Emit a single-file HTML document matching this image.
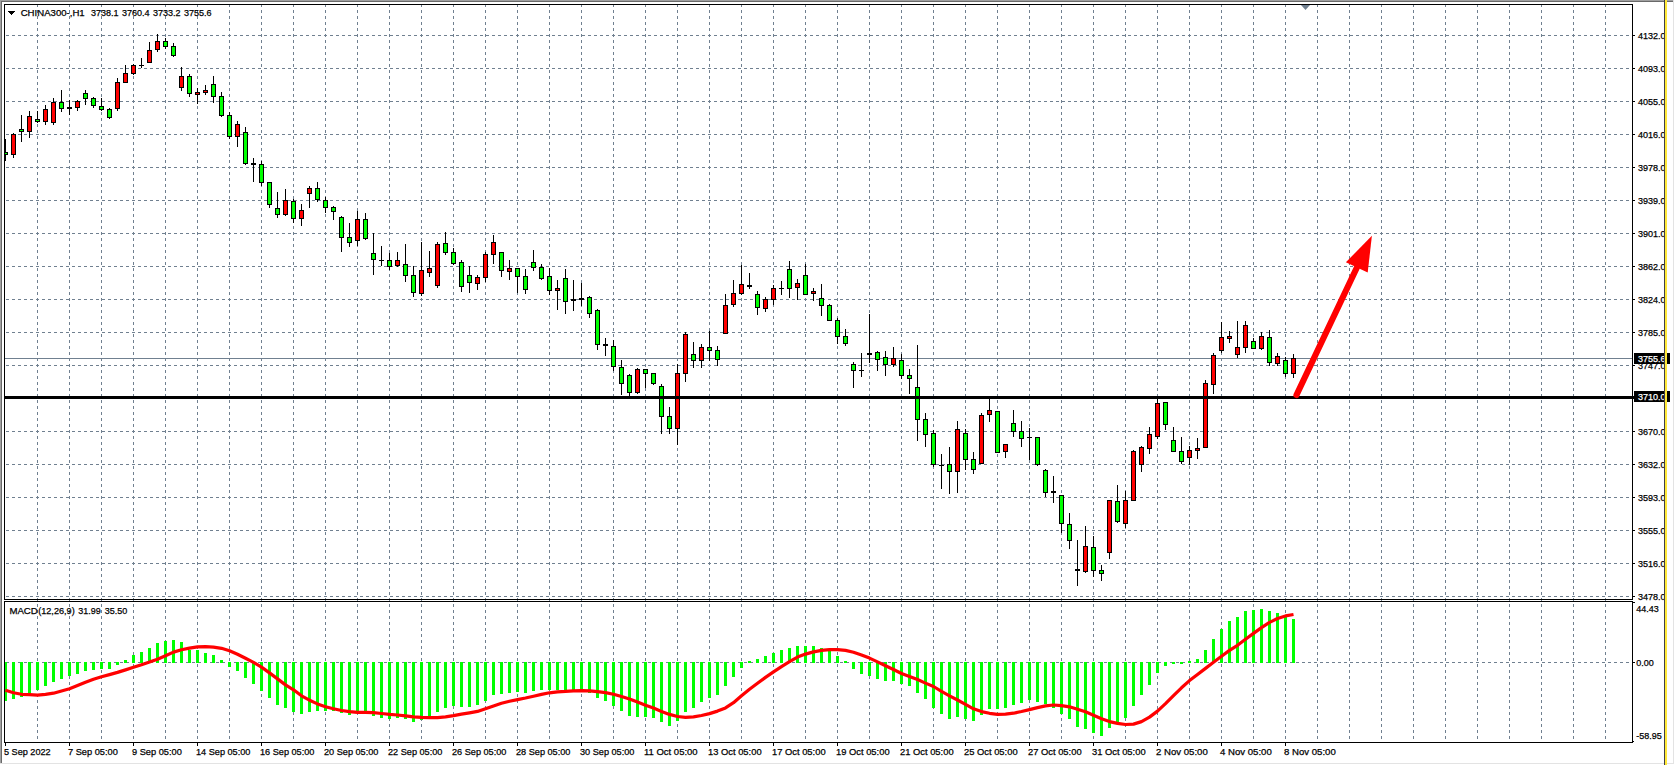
<!DOCTYPE html>
<html><head><meta charset="utf-8"><title>CHINA300-,H1</title>
<style>html,body{margin:0;padding:0;background:#fff;overflow:hidden}svg{display:block}text{font-family:"Liberation Sans",sans-serif;font-size:9.7px;fill:#000;stroke:#000;stroke-width:0.25px}.w{fill:#fff;stroke:#fff}</style></head><body>
<svg width="1675" height="765" viewBox="0 0 1675 765">
<rect width="1675" height="765" fill="#fff"/>
<g shape-rendering="crispEdges">
<rect x="0" y="0" width="1673" height="1" fill="#a0a0a0"/>
<rect x="0" y="0" width="1" height="763" fill="#a0a0a0"/>
<rect x="1" y="1" width="1672" height="1" fill="#696969"/>
<rect x="1" y="1" width="1" height="762" fill="#696969"/>
<rect x="0" y="763" width="1674" height="1" fill="#e3e3e3"/>
<rect x="1673" y="0" width="1" height="764" fill="#e3e3e3"/>
<g stroke="#708090" stroke-width="1" stroke-dasharray="3 3" fill="none">
<line x1="6" y1="35.5" x2="1632" y2="35.5"/>
<line x1="6" y1="68.5" x2="1632" y2="68.5"/>
<line x1="6" y1="101.5" x2="1632" y2="101.5"/>
<line x1="6" y1="134.5" x2="1632" y2="134.5"/>
<line x1="6" y1="167.5" x2="1632" y2="167.5"/>
<line x1="6" y1="200.5" x2="1632" y2="200.5"/>
<line x1="6" y1="233.5" x2="1632" y2="233.5"/>
<line x1="6" y1="266.5" x2="1632" y2="266.5"/>
<line x1="6" y1="299.5" x2="1632" y2="299.5"/>
<line x1="6" y1="332.5" x2="1632" y2="332.5"/>
<line x1="6" y1="365.5" x2="1632" y2="365.5"/>
<line x1="6" y1="431.5" x2="1632" y2="431.5"/>
<line x1="6" y1="464.5" x2="1632" y2="464.5"/>
<line x1="6" y1="497.5" x2="1632" y2="497.5"/>
<line x1="6" y1="530.5" x2="1632" y2="530.5"/>
<line x1="6" y1="563.5" x2="1632" y2="563.5"/>
<line x1="6" y1="596.5" x2="1632" y2="596.5"/>
<line x1="6" y1="662.5" x2="1632" y2="662.5"/>
<line x1="37.5" y1="4" x2="37.5" y2="742"/>
<line x1="69.5" y1="4" x2="69.5" y2="742"/>
<line x1="101.5" y1="4" x2="101.5" y2="742"/>
<line x1="133.5" y1="4" x2="133.5" y2="742"/>
<line x1="165.5" y1="4" x2="165.5" y2="742"/>
<line x1="197.5" y1="4" x2="197.5" y2="742"/>
<line x1="229.5" y1="4" x2="229.5" y2="742"/>
<line x1="261.5" y1="4" x2="261.5" y2="742"/>
<line x1="293.5" y1="4" x2="293.5" y2="742"/>
<line x1="325.5" y1="4" x2="325.5" y2="742"/>
<line x1="357.5" y1="4" x2="357.5" y2="742"/>
<line x1="389.5" y1="4" x2="389.5" y2="742"/>
<line x1="421.5" y1="4" x2="421.5" y2="742"/>
<line x1="453.5" y1="4" x2="453.5" y2="742"/>
<line x1="485.5" y1="4" x2="485.5" y2="742"/>
<line x1="517.5" y1="4" x2="517.5" y2="742"/>
<line x1="549.5" y1="4" x2="549.5" y2="742"/>
<line x1="581.5" y1="4" x2="581.5" y2="742"/>
<line x1="613.5" y1="4" x2="613.5" y2="742"/>
<line x1="645.5" y1="4" x2="645.5" y2="742"/>
<line x1="677.5" y1="4" x2="677.5" y2="742"/>
<line x1="709.5" y1="4" x2="709.5" y2="742"/>
<line x1="741.5" y1="4" x2="741.5" y2="742"/>
<line x1="773.5" y1="4" x2="773.5" y2="742"/>
<line x1="805.5" y1="4" x2="805.5" y2="742"/>
<line x1="837.5" y1="4" x2="837.5" y2="742"/>
<line x1="869.5" y1="4" x2="869.5" y2="742"/>
<line x1="901.5" y1="4" x2="901.5" y2="742"/>
<line x1="933.5" y1="4" x2="933.5" y2="742"/>
<line x1="965.5" y1="4" x2="965.5" y2="742"/>
<line x1="997.5" y1="4" x2="997.5" y2="742"/>
<line x1="1029.5" y1="4" x2="1029.5" y2="742"/>
<line x1="1061.5" y1="4" x2="1061.5" y2="742"/>
<line x1="1093.5" y1="4" x2="1093.5" y2="742"/>
<line x1="1125.5" y1="4" x2="1125.5" y2="742"/>
<line x1="1157.5" y1="4" x2="1157.5" y2="742"/>
<line x1="1189.5" y1="4" x2="1189.5" y2="742"/>
<line x1="1221.5" y1="4" x2="1221.5" y2="742"/>
<line x1="1253.5" y1="4" x2="1253.5" y2="742"/>
<line x1="1285.5" y1="4" x2="1285.5" y2="742"/>
<line x1="1317.5" y1="4" x2="1317.5" y2="742"/>
<line x1="1349.5" y1="4" x2="1349.5" y2="742"/>
<line x1="1381.5" y1="4" x2="1381.5" y2="742"/>
<line x1="1413.5" y1="4" x2="1413.5" y2="742"/>
<line x1="1445.5" y1="4" x2="1445.5" y2="742"/>
<line x1="1477.5" y1="4" x2="1477.5" y2="742"/>
<line x1="1509.5" y1="4" x2="1509.5" y2="742"/>
<line x1="1541.5" y1="4" x2="1541.5" y2="742"/>
<line x1="1573.5" y1="4" x2="1573.5" y2="742"/>
<line x1="1605.5" y1="4" x2="1605.5" y2="742"/>
</g>
<path d="M1301 5h9l-4.5 5z" fill="#708090" shape-rendering="geometricPrecision"/>
<rect x="5" y="358" width="1628" height="1" fill="#708090"/>
<rect x="5" y="139" width="1" height="22" fill="#000"/>
<rect x="5" y="152" width="3" height="3" fill="#000"/>
<rect x="5" y="153" width="2" height="1" fill="#00ff00"/>
<rect x="13" y="133" width="1" height="25" fill="#000"/>
<rect x="11" y="134" width="5" height="21" fill="#000"/>
<rect x="12" y="135" width="3" height="19" fill="#ff0000"/>
<rect x="21" y="115" width="1" height="27" fill="#000"/>
<rect x="19" y="129" width="5" height="3" fill="#000"/>
<rect x="20" y="130" width="3" height="1" fill="#00ff00"/>
<rect x="29" y="111" width="1" height="27" fill="#000"/>
<rect x="27" y="116" width="5" height="16" fill="#000"/>
<rect x="28" y="117" width="3" height="14" fill="#ff0000"/>
<rect x="37" y="111" width="1" height="12" fill="#000"/>
<rect x="35" y="119" width="5" height="3" fill="#000"/>
<rect x="36" y="120" width="3" height="1" fill="#00ff00"/>
<rect x="45" y="105" width="1" height="20" fill="#000"/>
<rect x="43" y="109" width="5" height="13" fill="#000"/>
<rect x="44" y="110" width="3" height="11" fill="#ff0000"/>
<rect x="53" y="98" width="1" height="27" fill="#000"/>
<rect x="51" y="102" width="5" height="21" fill="#000"/>
<rect x="52" y="103" width="3" height="19" fill="#ff0000"/>
<rect x="61" y="90" width="1" height="22" fill="#000"/>
<rect x="59" y="102" width="5" height="7" fill="#000"/>
<rect x="60" y="103" width="3" height="5" fill="#00ff00"/>
<rect x="69" y="100" width="1" height="15" fill="#000"/>
<rect x="67" y="107" width="5" height="2" fill="#000"/>
<rect x="77" y="100" width="1" height="11" fill="#000"/>
<rect x="75" y="101" width="5" height="7" fill="#000"/>
<rect x="76" y="102" width="3" height="5" fill="#ff0000"/>
<rect x="85" y="90" width="1" height="15" fill="#000"/>
<rect x="83" y="93" width="5" height="6" fill="#000"/>
<rect x="84" y="94" width="3" height="4" fill="#00ff00"/>
<rect x="93" y="97" width="1" height="11" fill="#000"/>
<rect x="91" y="98" width="5" height="8" fill="#000"/>
<rect x="92" y="99" width="3" height="6" fill="#00ff00"/>
<rect x="101" y="98" width="1" height="13" fill="#000"/>
<rect x="99" y="106" width="5" height="4" fill="#000"/>
<rect x="100" y="107" width="3" height="2" fill="#00ff00"/>
<rect x="109" y="108" width="1" height="11" fill="#000"/>
<rect x="107" y="109" width="5" height="9" fill="#000"/>
<rect x="108" y="110" width="3" height="7" fill="#00ff00"/>
<rect x="117" y="78" width="1" height="33" fill="#000"/>
<rect x="115" y="82" width="5" height="27" fill="#000"/>
<rect x="116" y="83" width="3" height="25" fill="#ff0000"/>
<rect x="125" y="65" width="1" height="18" fill="#000"/>
<rect x="123" y="73" width="5" height="10" fill="#000"/>
<rect x="124" y="74" width="3" height="8" fill="#ff0000"/>
<rect x="133" y="64" width="1" height="11" fill="#000"/>
<rect x="131" y="65" width="5" height="9" fill="#000"/>
<rect x="132" y="66" width="3" height="7" fill="#ff0000"/>
<rect x="141" y="58" width="1" height="10" fill="#000"/>
<rect x="139" y="65" width="5" height="1" fill="#000"/>
<rect x="149" y="42" width="1" height="21" fill="#000"/>
<rect x="147" y="50" width="5" height="13" fill="#000"/>
<rect x="148" y="51" width="3" height="11" fill="#ff0000"/>
<rect x="157" y="34" width="1" height="18" fill="#000"/>
<rect x="155" y="41" width="5" height="9" fill="#000"/>
<rect x="156" y="42" width="3" height="7" fill="#ff0000"/>
<rect x="165" y="38" width="1" height="11" fill="#000"/>
<rect x="163" y="41" width="5" height="6" fill="#000"/>
<rect x="164" y="42" width="3" height="4" fill="#00ff00"/>
<rect x="173" y="43" width="1" height="14" fill="#000"/>
<rect x="171" y="46" width="5" height="10" fill="#000"/>
<rect x="172" y="47" width="3" height="8" fill="#00ff00"/>
<rect x="181" y="67" width="1" height="24" fill="#000"/>
<rect x="179" y="76" width="5" height="12" fill="#000"/>
<rect x="180" y="77" width="3" height="10" fill="#ff0000"/>
<rect x="189" y="74" width="1" height="23" fill="#000"/>
<rect x="187" y="76" width="5" height="18" fill="#000"/>
<rect x="188" y="77" width="3" height="16" fill="#00ff00"/>
<rect x="197" y="88" width="1" height="16" fill="#000"/>
<rect x="195" y="92" width="5" height="3" fill="#000"/>
<rect x="196" y="93" width="3" height="1" fill="#ff0000"/>
<rect x="205" y="85" width="1" height="10" fill="#000"/>
<rect x="203" y="90" width="5" height="3" fill="#000"/>
<rect x="204" y="91" width="3" height="1" fill="#ff0000"/>
<rect x="213" y="76" width="1" height="27" fill="#000"/>
<rect x="211" y="84" width="5" height="13" fill="#000"/>
<rect x="212" y="85" width="3" height="11" fill="#00ff00"/>
<rect x="221" y="92" width="1" height="25" fill="#000"/>
<rect x="219" y="96" width="5" height="20" fill="#000"/>
<rect x="220" y="97" width="3" height="18" fill="#00ff00"/>
<rect x="229" y="112" width="1" height="27" fill="#000"/>
<rect x="227" y="115" width="5" height="22" fill="#000"/>
<rect x="228" y="116" width="3" height="20" fill="#00ff00"/>
<rect x="237" y="121" width="1" height="26" fill="#000"/>
<rect x="235" y="124" width="5" height="13" fill="#000"/>
<rect x="236" y="125" width="3" height="11" fill="#ff0000"/>
<rect x="245" y="127" width="1" height="38" fill="#000"/>
<rect x="243" y="132" width="5" height="32" fill="#000"/>
<rect x="244" y="133" width="3" height="30" fill="#00ff00"/>
<rect x="253" y="158" width="1" height="24" fill="#000"/>
<rect x="251" y="163" width="5" height="2" fill="#000"/>
<rect x="261" y="161" width="1" height="25" fill="#000"/>
<rect x="259" y="164" width="5" height="19" fill="#000"/>
<rect x="260" y="165" width="3" height="17" fill="#00ff00"/>
<rect x="269" y="182" width="1" height="26" fill="#000"/>
<rect x="267" y="182" width="5" height="23" fill="#000"/>
<rect x="268" y="183" width="3" height="21" fill="#00ff00"/>
<rect x="277" y="192" width="1" height="26" fill="#000"/>
<rect x="275" y="208" width="5" height="7" fill="#000"/>
<rect x="276" y="209" width="3" height="5" fill="#00ff00"/>
<rect x="285" y="189" width="1" height="27" fill="#000"/>
<rect x="283" y="200" width="5" height="15" fill="#000"/>
<rect x="284" y="201" width="3" height="13" fill="#ff0000"/>
<rect x="293" y="199" width="1" height="24" fill="#000"/>
<rect x="291" y="201" width="5" height="18" fill="#000"/>
<rect x="292" y="202" width="3" height="16" fill="#00ff00"/>
<rect x="301" y="204" width="1" height="22" fill="#000"/>
<rect x="299" y="210" width="5" height="9" fill="#000"/>
<rect x="300" y="211" width="3" height="7" fill="#ff0000"/>
<rect x="309" y="186" width="1" height="22" fill="#000"/>
<rect x="307" y="188" width="5" height="6" fill="#000"/>
<rect x="308" y="189" width="3" height="4" fill="#ff0000"/>
<rect x="317" y="182" width="1" height="20" fill="#000"/>
<rect x="315" y="188" width="5" height="12" fill="#000"/>
<rect x="316" y="189" width="3" height="10" fill="#00ff00"/>
<rect x="325" y="197" width="1" height="16" fill="#000"/>
<rect x="323" y="200" width="5" height="8" fill="#000"/>
<rect x="324" y="201" width="3" height="6" fill="#00ff00"/>
<rect x="333" y="206" width="1" height="14" fill="#000"/>
<rect x="331" y="207" width="5" height="5" fill="#000"/>
<rect x="332" y="208" width="3" height="3" fill="#00ff00"/>
<rect x="341" y="216" width="1" height="36" fill="#000"/>
<rect x="339" y="217" width="5" height="21" fill="#000"/>
<rect x="340" y="218" width="3" height="19" fill="#00ff00"/>
<rect x="349" y="223" width="1" height="24" fill="#000"/>
<rect x="347" y="237" width="5" height="6" fill="#000"/>
<rect x="348" y="238" width="3" height="4" fill="#00ff00"/>
<rect x="357" y="211" width="1" height="35" fill="#000"/>
<rect x="355" y="219" width="5" height="22" fill="#000"/>
<rect x="356" y="220" width="3" height="20" fill="#ff0000"/>
<rect x="365" y="213" width="1" height="27" fill="#000"/>
<rect x="363" y="219" width="5" height="20" fill="#000"/>
<rect x="364" y="220" width="3" height="18" fill="#00ff00"/>
<rect x="373" y="233" width="1" height="42" fill="#000"/>
<rect x="371" y="253" width="5" height="7" fill="#000"/>
<rect x="372" y="254" width="3" height="5" fill="#00ff00"/>
<rect x="381" y="246" width="1" height="20" fill="#000"/>
<rect x="379" y="260" width="5" height="1" fill="#000"/>
<rect x="389" y="253" width="1" height="17" fill="#000"/>
<rect x="387" y="260" width="5" height="7" fill="#000"/>
<rect x="388" y="261" width="3" height="5" fill="#00ff00"/>
<rect x="397" y="252" width="1" height="15" fill="#000"/>
<rect x="395" y="260" width="5" height="6" fill="#000"/>
<rect x="396" y="261" width="3" height="4" fill="#ff0000"/>
<rect x="405" y="244" width="1" height="38" fill="#000"/>
<rect x="403" y="264" width="5" height="12" fill="#000"/>
<rect x="404" y="265" width="3" height="10" fill="#00ff00"/>
<rect x="413" y="266" width="1" height="31" fill="#000"/>
<rect x="411" y="275" width="5" height="18" fill="#000"/>
<rect x="412" y="276" width="3" height="16" fill="#00ff00"/>
<rect x="421" y="242" width="1" height="54" fill="#000"/>
<rect x="419" y="270" width="5" height="24" fill="#000"/>
<rect x="420" y="271" width="3" height="22" fill="#ff0000"/>
<rect x="429" y="251" width="1" height="26" fill="#000"/>
<rect x="427" y="268" width="5" height="5" fill="#000"/>
<rect x="428" y="269" width="3" height="3" fill="#ff0000"/>
<rect x="437" y="242" width="1" height="46" fill="#000"/>
<rect x="435" y="244" width="5" height="42" fill="#000"/>
<rect x="436" y="245" width="3" height="40" fill="#ff0000"/>
<rect x="445" y="232" width="1" height="23" fill="#000"/>
<rect x="443" y="243" width="5" height="10" fill="#000"/>
<rect x="444" y="244" width="3" height="8" fill="#00ff00"/>
<rect x="453" y="248" width="1" height="17" fill="#000"/>
<rect x="451" y="252" width="5" height="12" fill="#000"/>
<rect x="452" y="253" width="3" height="10" fill="#00ff00"/>
<rect x="461" y="260" width="1" height="32" fill="#000"/>
<rect x="459" y="262" width="5" height="25" fill="#000"/>
<rect x="460" y="263" width="3" height="23" fill="#00ff00"/>
<rect x="469" y="266" width="1" height="27" fill="#000"/>
<rect x="467" y="275" width="5" height="8" fill="#000"/>
<rect x="468" y="276" width="3" height="6" fill="#00ff00"/>
<rect x="477" y="275" width="1" height="15" fill="#000"/>
<rect x="475" y="277" width="5" height="7" fill="#000"/>
<rect x="476" y="278" width="3" height="5" fill="#ff0000"/>
<rect x="485" y="252" width="1" height="30" fill="#000"/>
<rect x="483" y="254" width="5" height="24" fill="#000"/>
<rect x="484" y="255" width="3" height="22" fill="#ff0000"/>
<rect x="493" y="235" width="1" height="29" fill="#000"/>
<rect x="491" y="242" width="5" height="13" fill="#000"/>
<rect x="492" y="243" width="3" height="11" fill="#ff0000"/>
<rect x="501" y="252" width="1" height="25" fill="#000"/>
<rect x="499" y="252" width="5" height="19" fill="#000"/>
<rect x="500" y="253" width="3" height="17" fill="#00ff00"/>
<rect x="509" y="260" width="1" height="20" fill="#000"/>
<rect x="507" y="268" width="5" height="4" fill="#000"/>
<rect x="508" y="269" width="3" height="2" fill="#ff0000"/>
<rect x="517" y="268" width="1" height="25" fill="#000"/>
<rect x="515" y="268" width="5" height="9" fill="#000"/>
<rect x="516" y="269" width="3" height="7" fill="#00ff00"/>
<rect x="525" y="269" width="1" height="25" fill="#000"/>
<rect x="523" y="276" width="5" height="14" fill="#000"/>
<rect x="524" y="277" width="3" height="12" fill="#00ff00"/>
<rect x="533" y="250" width="1" height="21" fill="#000"/>
<rect x="531" y="262" width="5" height="6" fill="#000"/>
<rect x="532" y="263" width="3" height="4" fill="#00ff00"/>
<rect x="541" y="264" width="1" height="16" fill="#000"/>
<rect x="539" y="267" width="5" height="12" fill="#000"/>
<rect x="540" y="268" width="3" height="10" fill="#00ff00"/>
<rect x="549" y="268" width="1" height="27" fill="#000"/>
<rect x="547" y="276" width="5" height="15" fill="#000"/>
<rect x="548" y="277" width="3" height="13" fill="#00ff00"/>
<rect x="557" y="280" width="1" height="30" fill="#000"/>
<rect x="555" y="288" width="5" height="3" fill="#000"/>
<rect x="556" y="289" width="3" height="1" fill="#ff0000"/>
<rect x="565" y="269" width="1" height="45" fill="#000"/>
<rect x="563" y="278" width="5" height="24" fill="#000"/>
<rect x="564" y="279" width="3" height="22" fill="#00ff00"/>
<rect x="573" y="280" width="1" height="31" fill="#000"/>
<rect x="571" y="299" width="5" height="2" fill="#000"/>
<rect x="581" y="283" width="1" height="23" fill="#000"/>
<rect x="579" y="298" width="5" height="2" fill="#000"/>
<rect x="589" y="296" width="1" height="22" fill="#000"/>
<rect x="587" y="297" width="5" height="17" fill="#000"/>
<rect x="588" y="298" width="3" height="15" fill="#00ff00"/>
<rect x="597" y="309" width="1" height="41" fill="#000"/>
<rect x="595" y="310" width="5" height="35" fill="#000"/>
<rect x="596" y="311" width="3" height="33" fill="#00ff00"/>
<rect x="605" y="338" width="1" height="18" fill="#000"/>
<rect x="603" y="344" width="5" height="2" fill="#000"/>
<rect x="613" y="340" width="1" height="31" fill="#000"/>
<rect x="611" y="346" width="5" height="21" fill="#000"/>
<rect x="612" y="347" width="3" height="19" fill="#00ff00"/>
<rect x="621" y="360" width="1" height="35" fill="#000"/>
<rect x="619" y="367" width="5" height="17" fill="#000"/>
<rect x="620" y="368" width="3" height="15" fill="#00ff00"/>
<rect x="629" y="374" width="1" height="22" fill="#000"/>
<rect x="627" y="375" width="5" height="18" fill="#000"/>
<rect x="628" y="376" width="3" height="16" fill="#00ff00"/>
<rect x="637" y="368" width="1" height="26" fill="#000"/>
<rect x="635" y="369" width="5" height="24" fill="#000"/>
<rect x="636" y="370" width="3" height="22" fill="#ff0000"/>
<rect x="645" y="369" width="1" height="19" fill="#000"/>
<rect x="643" y="369" width="5" height="5" fill="#000"/>
<rect x="644" y="370" width="3" height="3" fill="#00ff00"/>
<rect x="653" y="373" width="1" height="12" fill="#000"/>
<rect x="651" y="373" width="5" height="11" fill="#000"/>
<rect x="652" y="374" width="3" height="9" fill="#00ff00"/>
<rect x="661" y="384" width="1" height="50" fill="#000"/>
<rect x="659" y="386" width="5" height="31" fill="#000"/>
<rect x="660" y="387" width="3" height="29" fill="#00ff00"/>
<rect x="669" y="407" width="1" height="27" fill="#000"/>
<rect x="667" y="416" width="5" height="13" fill="#000"/>
<rect x="668" y="417" width="3" height="11" fill="#00ff00"/>
<rect x="677" y="364" width="1" height="81" fill="#000"/>
<rect x="675" y="373" width="5" height="56" fill="#000"/>
<rect x="676" y="374" width="3" height="54" fill="#ff0000"/>
<rect x="685" y="332" width="1" height="50" fill="#000"/>
<rect x="683" y="334" width="5" height="40" fill="#000"/>
<rect x="684" y="335" width="3" height="38" fill="#ff0000"/>
<rect x="693" y="342" width="1" height="26" fill="#000"/>
<rect x="691" y="354" width="5" height="7" fill="#000"/>
<rect x="692" y="355" width="3" height="5" fill="#00ff00"/>
<rect x="701" y="344" width="1" height="24" fill="#000"/>
<rect x="699" y="347" width="5" height="14" fill="#000"/>
<rect x="700" y="348" width="3" height="12" fill="#ff0000"/>
<rect x="709" y="331" width="1" height="30" fill="#000"/>
<rect x="707" y="347" width="5" height="4" fill="#000"/>
<rect x="708" y="348" width="3" height="2" fill="#00ff00"/>
<rect x="717" y="346" width="1" height="20" fill="#000"/>
<rect x="715" y="350" width="5" height="10" fill="#000"/>
<rect x="716" y="351" width="3" height="8" fill="#00ff00"/>
<rect x="725" y="294" width="1" height="40" fill="#000"/>
<rect x="723" y="305" width="5" height="29" fill="#000"/>
<rect x="724" y="306" width="3" height="27" fill="#ff0000"/>
<rect x="733" y="280" width="1" height="27" fill="#000"/>
<rect x="731" y="293" width="5" height="12" fill="#000"/>
<rect x="732" y="294" width="3" height="10" fill="#ff0000"/>
<rect x="741" y="265" width="1" height="30" fill="#000"/>
<rect x="739" y="284" width="5" height="10" fill="#000"/>
<rect x="740" y="285" width="3" height="8" fill="#ff0000"/>
<rect x="749" y="273" width="1" height="16" fill="#000"/>
<rect x="747" y="285" width="5" height="2" fill="#000"/>
<rect x="757" y="291" width="1" height="24" fill="#000"/>
<rect x="755" y="294" width="5" height="14" fill="#000"/>
<rect x="756" y="295" width="3" height="12" fill="#00ff00"/>
<rect x="765" y="297" width="1" height="15" fill="#000"/>
<rect x="763" y="299" width="5" height="10" fill="#000"/>
<rect x="764" y="300" width="3" height="8" fill="#ff0000"/>
<rect x="773" y="285" width="1" height="20" fill="#000"/>
<rect x="771" y="288" width="5" height="12" fill="#000"/>
<rect x="772" y="289" width="3" height="10" fill="#ff0000"/>
<rect x="781" y="281" width="1" height="14" fill="#000"/>
<rect x="779" y="288" width="5" height="1" fill="#000"/>
<rect x="789" y="261" width="1" height="37" fill="#000"/>
<rect x="787" y="269" width="5" height="20" fill="#000"/>
<rect x="788" y="270" width="3" height="18" fill="#00ff00"/>
<rect x="797" y="279" width="1" height="21" fill="#000"/>
<rect x="795" y="283" width="5" height="5" fill="#000"/>
<rect x="796" y="284" width="3" height="3" fill="#ff0000"/>
<rect x="805" y="264" width="1" height="31" fill="#000"/>
<rect x="803" y="275" width="5" height="20" fill="#000"/>
<rect x="804" y="276" width="3" height="18" fill="#00ff00"/>
<rect x="813" y="288" width="1" height="13" fill="#000"/>
<rect x="811" y="291" width="5" height="3" fill="#000"/>
<rect x="812" y="292" width="3" height="1" fill="#ff0000"/>
<rect x="821" y="284" width="1" height="32" fill="#000"/>
<rect x="819" y="298" width="5" height="8" fill="#000"/>
<rect x="820" y="299" width="3" height="6" fill="#00ff00"/>
<rect x="829" y="304" width="1" height="17" fill="#000"/>
<rect x="827" y="305" width="5" height="16" fill="#000"/>
<rect x="828" y="306" width="3" height="14" fill="#00ff00"/>
<rect x="837" y="318" width="1" height="26" fill="#000"/>
<rect x="835" y="320" width="5" height="17" fill="#000"/>
<rect x="836" y="321" width="3" height="15" fill="#00ff00"/>
<rect x="845" y="329" width="1" height="17" fill="#000"/>
<rect x="843" y="336" width="5" height="8" fill="#000"/>
<rect x="844" y="337" width="3" height="6" fill="#00ff00"/>
<rect x="853" y="362" width="1" height="26" fill="#000"/>
<rect x="851" y="364" width="5" height="7" fill="#000"/>
<rect x="852" y="365" width="3" height="5" fill="#00ff00"/>
<rect x="861" y="353" width="1" height="24" fill="#000"/>
<rect x="859" y="370" width="5" height="1" fill="#000"/>
<rect x="869" y="314" width="1" height="49" fill="#000"/>
<rect x="867" y="353" width="5" height="2" fill="#000"/>
<rect x="877" y="351" width="1" height="20" fill="#000"/>
<rect x="875" y="352" width="5" height="8" fill="#000"/>
<rect x="876" y="353" width="3" height="6" fill="#00ff00"/>
<rect x="885" y="351" width="1" height="25" fill="#000"/>
<rect x="883" y="357" width="5" height="8" fill="#000"/>
<rect x="884" y="358" width="3" height="6" fill="#00ff00"/>
<rect x="893" y="347" width="1" height="20" fill="#000"/>
<rect x="891" y="358" width="5" height="7" fill="#000"/>
<rect x="892" y="359" width="3" height="5" fill="#ff0000"/>
<rect x="901" y="354" width="1" height="25" fill="#000"/>
<rect x="899" y="360" width="5" height="16" fill="#000"/>
<rect x="900" y="361" width="3" height="14" fill="#00ff00"/>
<rect x="909" y="369" width="1" height="25" fill="#000"/>
<rect x="907" y="375" width="5" height="4" fill="#000"/>
<rect x="908" y="376" width="3" height="2" fill="#00ff00"/>
<rect x="917" y="345" width="1" height="96" fill="#000"/>
<rect x="915" y="387" width="5" height="33" fill="#000"/>
<rect x="916" y="388" width="3" height="31" fill="#00ff00"/>
<rect x="925" y="413" width="1" height="34" fill="#000"/>
<rect x="923" y="419" width="5" height="16" fill="#000"/>
<rect x="924" y="420" width="3" height="14" fill="#00ff00"/>
<rect x="933" y="430" width="1" height="37" fill="#000"/>
<rect x="931" y="433" width="5" height="32" fill="#000"/>
<rect x="932" y="434" width="3" height="30" fill="#00ff00"/>
<rect x="941" y="454" width="1" height="35" fill="#000"/>
<rect x="939" y="465" width="5" height="1" fill="#000"/>
<rect x="949" y="447" width="1" height="47" fill="#000"/>
<rect x="947" y="464" width="5" height="8" fill="#000"/>
<rect x="948" y="465" width="3" height="6" fill="#00ff00"/>
<rect x="957" y="421" width="1" height="72" fill="#000"/>
<rect x="955" y="429" width="5" height="43" fill="#000"/>
<rect x="956" y="430" width="3" height="41" fill="#ff0000"/>
<rect x="965" y="429" width="1" height="41" fill="#000"/>
<rect x="963" y="433" width="5" height="27" fill="#000"/>
<rect x="964" y="434" width="3" height="25" fill="#00ff00"/>
<rect x="973" y="452" width="1" height="22" fill="#000"/>
<rect x="971" y="459" width="5" height="11" fill="#000"/>
<rect x="972" y="460" width="3" height="9" fill="#00ff00"/>
<rect x="981" y="413" width="1" height="51" fill="#000"/>
<rect x="979" y="415" width="5" height="49" fill="#000"/>
<rect x="980" y="416" width="3" height="47" fill="#ff0000"/>
<rect x="989" y="399" width="1" height="23" fill="#000"/>
<rect x="987" y="410" width="5" height="5" fill="#000"/>
<rect x="988" y="411" width="3" height="3" fill="#ff0000"/>
<rect x="997" y="411" width="1" height="42" fill="#000"/>
<rect x="995" y="411" width="5" height="42" fill="#000"/>
<rect x="996" y="412" width="3" height="40" fill="#00ff00"/>
<rect x="1005" y="444" width="1" height="14" fill="#000"/>
<rect x="1003" y="444" width="5" height="8" fill="#000"/>
<rect x="1004" y="445" width="3" height="6" fill="#ff0000"/>
<rect x="1013" y="410" width="1" height="27" fill="#000"/>
<rect x="1011" y="423" width="5" height="9" fill="#000"/>
<rect x="1012" y="424" width="3" height="7" fill="#00ff00"/>
<rect x="1021" y="421" width="1" height="26" fill="#000"/>
<rect x="1019" y="431" width="5" height="8" fill="#000"/>
<rect x="1020" y="432" width="3" height="6" fill="#00ff00"/>
<rect x="1029" y="428" width="1" height="32" fill="#000"/>
<rect x="1027" y="437" width="5" height="1" fill="#000"/>
<rect x="1037" y="437" width="1" height="29" fill="#000"/>
<rect x="1035" y="437" width="5" height="28" fill="#000"/>
<rect x="1036" y="438" width="3" height="26" fill="#00ff00"/>
<rect x="1045" y="469" width="1" height="28" fill="#000"/>
<rect x="1043" y="470" width="5" height="23" fill="#000"/>
<rect x="1044" y="471" width="3" height="21" fill="#00ff00"/>
<rect x="1053" y="476" width="1" height="27" fill="#000"/>
<rect x="1051" y="491" width="5" height="2" fill="#000"/>
<rect x="1061" y="495" width="1" height="38" fill="#000"/>
<rect x="1059" y="495" width="5" height="29" fill="#000"/>
<rect x="1060" y="496" width="3" height="27" fill="#00ff00"/>
<rect x="1069" y="513" width="1" height="36" fill="#000"/>
<rect x="1067" y="524" width="5" height="17" fill="#000"/>
<rect x="1068" y="525" width="3" height="15" fill="#00ff00"/>
<rect x="1077" y="540" width="1" height="46" fill="#000"/>
<rect x="1075" y="569" width="5" height="2" fill="#000"/>
<rect x="1085" y="526" width="1" height="47" fill="#000"/>
<rect x="1083" y="546" width="5" height="26" fill="#000"/>
<rect x="1084" y="547" width="3" height="24" fill="#ff0000"/>
<rect x="1093" y="536" width="1" height="41" fill="#000"/>
<rect x="1091" y="547" width="5" height="24" fill="#000"/>
<rect x="1092" y="548" width="3" height="22" fill="#00ff00"/>
<rect x="1101" y="565" width="1" height="16" fill="#000"/>
<rect x="1099" y="570" width="5" height="4" fill="#000"/>
<rect x="1100" y="571" width="3" height="2" fill="#00ff00"/>
<rect x="1109" y="500" width="1" height="59" fill="#000"/>
<rect x="1107" y="500" width="5" height="53" fill="#000"/>
<rect x="1108" y="501" width="3" height="51" fill="#ff0000"/>
<rect x="1117" y="485" width="1" height="38" fill="#000"/>
<rect x="1115" y="501" width="5" height="21" fill="#000"/>
<rect x="1116" y="502" width="3" height="19" fill="#00ff00"/>
<rect x="1125" y="491" width="1" height="37" fill="#000"/>
<rect x="1123" y="500" width="5" height="24" fill="#000"/>
<rect x="1124" y="501" width="3" height="22" fill="#ff0000"/>
<rect x="1133" y="450" width="1" height="51" fill="#000"/>
<rect x="1131" y="451" width="5" height="50" fill="#000"/>
<rect x="1132" y="452" width="3" height="48" fill="#ff0000"/>
<rect x="1141" y="446" width="1" height="26" fill="#000"/>
<rect x="1139" y="447" width="5" height="18" fill="#000"/>
<rect x="1140" y="448" width="3" height="16" fill="#ff0000"/>
<rect x="1149" y="427" width="1" height="27" fill="#000"/>
<rect x="1147" y="434" width="5" height="15" fill="#000"/>
<rect x="1148" y="435" width="3" height="13" fill="#ff0000"/>
<rect x="1157" y="399" width="1" height="40" fill="#000"/>
<rect x="1155" y="403" width="5" height="34" fill="#000"/>
<rect x="1156" y="404" width="3" height="32" fill="#ff0000"/>
<rect x="1165" y="402" width="1" height="28" fill="#000"/>
<rect x="1163" y="402" width="5" height="23" fill="#000"/>
<rect x="1164" y="403" width="3" height="21" fill="#00ff00"/>
<rect x="1173" y="427" width="1" height="25" fill="#000"/>
<rect x="1171" y="440" width="5" height="12" fill="#000"/>
<rect x="1172" y="441" width="3" height="10" fill="#00ff00"/>
<rect x="1181" y="437" width="1" height="27" fill="#000"/>
<rect x="1179" y="451" width="5" height="11" fill="#000"/>
<rect x="1180" y="452" width="3" height="9" fill="#00ff00"/>
<rect x="1189" y="446" width="1" height="19" fill="#000"/>
<rect x="1187" y="450" width="5" height="8" fill="#000"/>
<rect x="1188" y="451" width="3" height="6" fill="#ff0000"/>
<rect x="1197" y="438" width="1" height="21" fill="#000"/>
<rect x="1195" y="448" width="5" height="3" fill="#000"/>
<rect x="1196" y="449" width="3" height="1" fill="#ff0000"/>
<rect x="1205" y="380" width="1" height="68" fill="#000"/>
<rect x="1203" y="383" width="5" height="65" fill="#000"/>
<rect x="1204" y="384" width="3" height="63" fill="#ff0000"/>
<rect x="1213" y="353" width="1" height="41" fill="#000"/>
<rect x="1211" y="355" width="5" height="30" fill="#000"/>
<rect x="1212" y="356" width="3" height="28" fill="#ff0000"/>
<rect x="1221" y="322" width="1" height="31" fill="#000"/>
<rect x="1219" y="337" width="5" height="14" fill="#000"/>
<rect x="1220" y="338" width="3" height="12" fill="#ff0000"/>
<rect x="1229" y="331" width="1" height="12" fill="#000"/>
<rect x="1227" y="336" width="5" height="3" fill="#000"/>
<rect x="1228" y="337" width="3" height="1" fill="#ff0000"/>
<rect x="1237" y="321" width="1" height="37" fill="#000"/>
<rect x="1235" y="347" width="5" height="8" fill="#000"/>
<rect x="1236" y="348" width="3" height="6" fill="#ff0000"/>
<rect x="1245" y="321" width="1" height="32" fill="#000"/>
<rect x="1243" y="325" width="5" height="23" fill="#000"/>
<rect x="1244" y="326" width="3" height="21" fill="#ff0000"/>
<rect x="1253" y="338" width="1" height="11" fill="#000"/>
<rect x="1251" y="341" width="5" height="8" fill="#000"/>
<rect x="1252" y="342" width="3" height="6" fill="#00ff00"/>
<rect x="1261" y="332" width="1" height="18" fill="#000"/>
<rect x="1259" y="336" width="5" height="13" fill="#000"/>
<rect x="1260" y="337" width="3" height="11" fill="#ff0000"/>
<rect x="1269" y="330" width="1" height="36" fill="#000"/>
<rect x="1267" y="337" width="5" height="26" fill="#000"/>
<rect x="1268" y="338" width="3" height="24" fill="#00ff00"/>
<rect x="1277" y="353" width="1" height="13" fill="#000"/>
<rect x="1275" y="356" width="5" height="8" fill="#000"/>
<rect x="1276" y="357" width="3" height="6" fill="#ff0000"/>
<rect x="1285" y="357" width="1" height="20" fill="#000"/>
<rect x="1283" y="360" width="5" height="14" fill="#000"/>
<rect x="1284" y="361" width="3" height="12" fill="#00ff00"/>
<rect x="1293" y="354" width="1" height="24" fill="#000"/>
<rect x="1291" y="358" width="5" height="16" fill="#000"/>
<rect x="1292" y="359" width="3" height="14" fill="#ff0000"/>
<rect x="5" y="396" width="1629" height="3" fill="#000"/>
<rect x="5" y="662" width="2" height="39" fill="#00ff00"/>
<rect x="12" y="662" width="3" height="37" fill="#00ff00"/>
<rect x="20" y="662" width="3" height="35" fill="#00ff00"/>
<rect x="28" y="662" width="3" height="32" fill="#00ff00"/>
<rect x="36" y="662" width="3" height="28" fill="#00ff00"/>
<rect x="44" y="662" width="3" height="24" fill="#00ff00"/>
<rect x="52" y="662" width="3" height="20" fill="#00ff00"/>
<rect x="60" y="662" width="3" height="17" fill="#00ff00"/>
<rect x="68" y="662" width="3" height="14" fill="#00ff00"/>
<rect x="76" y="662" width="3" height="12" fill="#00ff00"/>
<rect x="84" y="662" width="3" height="9" fill="#00ff00"/>
<rect x="92" y="662" width="3" height="8" fill="#00ff00"/>
<rect x="100" y="662" width="3" height="7" fill="#00ff00"/>
<rect x="108" y="662" width="3" height="7" fill="#00ff00"/>
<rect x="116" y="662" width="3" height="3" fill="#00ff00"/>
<rect x="124" y="660" width="3" height="3" fill="#00ff00"/>
<rect x="132" y="655" width="3" height="8" fill="#00ff00"/>
<rect x="140" y="652" width="3" height="11" fill="#00ff00"/>
<rect x="148" y="648" width="3" height="15" fill="#00ff00"/>
<rect x="156" y="643" width="3" height="20" fill="#00ff00"/>
<rect x="164" y="641" width="3" height="22" fill="#00ff00"/>
<rect x="172" y="640" width="3" height="23" fill="#00ff00"/>
<rect x="180" y="642" width="3" height="21" fill="#00ff00"/>
<rect x="188" y="650" width="3" height="13" fill="#00ff00"/>
<rect x="196" y="650" width="3" height="13" fill="#00ff00"/>
<rect x="204" y="653" width="3" height="10" fill="#00ff00"/>
<rect x="212" y="655" width="3" height="8" fill="#00ff00"/>
<rect x="220" y="660" width="3" height="3" fill="#00ff00"/>
<rect x="228" y="662" width="3" height="5" fill="#00ff00"/>
<rect x="236" y="662" width="3" height="9" fill="#00ff00"/>
<rect x="244" y="662" width="3" height="16" fill="#00ff00"/>
<rect x="252" y="662" width="3" height="22" fill="#00ff00"/>
<rect x="260" y="662" width="3" height="29" fill="#00ff00"/>
<rect x="268" y="662" width="3" height="36" fill="#00ff00"/>
<rect x="276" y="662" width="3" height="43" fill="#00ff00"/>
<rect x="284" y="662" width="3" height="46" fill="#00ff00"/>
<rect x="292" y="662" width="3" height="50" fill="#00ff00"/>
<rect x="300" y="662" width="3" height="52" fill="#00ff00"/>
<rect x="308" y="662" width="3" height="50" fill="#00ff00"/>
<rect x="316" y="662" width="3" height="49" fill="#00ff00"/>
<rect x="324" y="662" width="3" height="49" fill="#00ff00"/>
<rect x="332" y="662" width="3" height="49" fill="#00ff00"/>
<rect x="340" y="662" width="3" height="51" fill="#00ff00"/>
<rect x="348" y="662" width="3" height="53" fill="#00ff00"/>
<rect x="356" y="662" width="3" height="51" fill="#00ff00"/>
<rect x="364" y="662" width="3" height="51" fill="#00ff00"/>
<rect x="372" y="662" width="3" height="54" fill="#00ff00"/>
<rect x="380" y="662" width="3" height="56" fill="#00ff00"/>
<rect x="388" y="662" width="3" height="57" fill="#00ff00"/>
<rect x="396" y="662" width="3" height="56" fill="#00ff00"/>
<rect x="404" y="662" width="3" height="57" fill="#00ff00"/>
<rect x="412" y="662" width="3" height="60" fill="#00ff00"/>
<rect x="420" y="662" width="3" height="58" fill="#00ff00"/>
<rect x="428" y="662" width="3" height="55" fill="#00ff00"/>
<rect x="436" y="662" width="3" height="50" fill="#00ff00"/>
<rect x="444" y="662" width="3" height="46" fill="#00ff00"/>
<rect x="452" y="662" width="3" height="44" fill="#00ff00"/>
<rect x="460" y="662" width="3" height="45" fill="#00ff00"/>
<rect x="468" y="662" width="3" height="45" fill="#00ff00"/>
<rect x="476" y="662" width="3" height="43" fill="#00ff00"/>
<rect x="484" y="662" width="3" height="39" fill="#00ff00"/>
<rect x="492" y="662" width="3" height="33" fill="#00ff00"/>
<rect x="500" y="662" width="3" height="32" fill="#00ff00"/>
<rect x="508" y="662" width="3" height="31" fill="#00ff00"/>
<rect x="516" y="662" width="3" height="30" fill="#00ff00"/>
<rect x="524" y="662" width="3" height="31" fill="#00ff00"/>
<rect x="532" y="662" width="3" height="29" fill="#00ff00"/>
<rect x="540" y="662" width="3" height="28" fill="#00ff00"/>
<rect x="548" y="662" width="3" height="28" fill="#00ff00"/>
<rect x="556" y="662" width="3" height="28" fill="#00ff00"/>
<rect x="564" y="662" width="3" height="28" fill="#00ff00"/>
<rect x="572" y="662" width="3" height="28" fill="#00ff00"/>
<rect x="580" y="662" width="3" height="30" fill="#00ff00"/>
<rect x="588" y="662" width="3" height="31" fill="#00ff00"/>
<rect x="596" y="662" width="3" height="36" fill="#00ff00"/>
<rect x="604" y="662" width="3" height="39" fill="#00ff00"/>
<rect x="612" y="662" width="3" height="44" fill="#00ff00"/>
<rect x="620" y="662" width="3" height="49" fill="#00ff00"/>
<rect x="628" y="662" width="3" height="54" fill="#00ff00"/>
<rect x="636" y="662" width="3" height="55" fill="#00ff00"/>
<rect x="644" y="662" width="3" height="55" fill="#00ff00"/>
<rect x="652" y="662" width="3" height="56" fill="#00ff00"/>
<rect x="660" y="662" width="3" height="60" fill="#00ff00"/>
<rect x="668" y="662" width="3" height="64" fill="#00ff00"/>
<rect x="676" y="662" width="3" height="59" fill="#00ff00"/>
<rect x="684" y="662" width="3" height="50" fill="#00ff00"/>
<rect x="692" y="662" width="3" height="46" fill="#00ff00"/>
<rect x="700" y="662" width="3" height="40" fill="#00ff00"/>
<rect x="708" y="662" width="3" height="36" fill="#00ff00"/>
<rect x="716" y="662" width="3" height="33" fill="#00ff00"/>
<rect x="724" y="662" width="3" height="24" fill="#00ff00"/>
<rect x="732" y="662" width="3" height="15" fill="#00ff00"/>
<rect x="740" y="662" width="3" height="6" fill="#00ff00"/>
<rect x="748" y="661" width="3" height="2" fill="#00ff00"/>
<rect x="756" y="659" width="3" height="4" fill="#00ff00"/>
<rect x="764" y="656" width="3" height="7" fill="#00ff00"/>
<rect x="772" y="653" width="3" height="10" fill="#00ff00"/>
<rect x="780" y="650" width="3" height="13" fill="#00ff00"/>
<rect x="788" y="648" width="3" height="15" fill="#00ff00"/>
<rect x="796" y="646" width="3" height="17" fill="#00ff00"/>
<rect x="804" y="646" width="3" height="17" fill="#00ff00"/>
<rect x="812" y="646" width="3" height="17" fill="#00ff00"/>
<rect x="820" y="648" width="3" height="15" fill="#00ff00"/>
<rect x="828" y="650" width="3" height="13" fill="#00ff00"/>
<rect x="836" y="656" width="3" height="7" fill="#00ff00"/>
<rect x="844" y="661" width="3" height="2" fill="#00ff00"/>
<rect x="852" y="662" width="3" height="7" fill="#00ff00"/>
<rect x="860" y="662" width="3" height="12" fill="#00ff00"/>
<rect x="868" y="662" width="3" height="14" fill="#00ff00"/>
<rect x="876" y="662" width="3" height="17" fill="#00ff00"/>
<rect x="884" y="662" width="3" height="19" fill="#00ff00"/>
<rect x="892" y="662" width="3" height="19" fill="#00ff00"/>
<rect x="900" y="662" width="3" height="22" fill="#00ff00"/>
<rect x="908" y="662" width="3" height="24" fill="#00ff00"/>
<rect x="916" y="662" width="3" height="31" fill="#00ff00"/>
<rect x="924" y="662" width="3" height="37" fill="#00ff00"/>
<rect x="932" y="662" width="3" height="46" fill="#00ff00"/>
<rect x="940" y="662" width="3" height="52" fill="#00ff00"/>
<rect x="948" y="662" width="3" height="57" fill="#00ff00"/>
<rect x="956" y="662" width="3" height="55" fill="#00ff00"/>
<rect x="964" y="662" width="3" height="57" fill="#00ff00"/>
<rect x="972" y="662" width="3" height="59" fill="#00ff00"/>
<rect x="980" y="662" width="3" height="53" fill="#00ff00"/>
<rect x="988" y="662" width="3" height="47" fill="#00ff00"/>
<rect x="996" y="662" width="3" height="47" fill="#00ff00"/>
<rect x="1004" y="662" width="3" height="46" fill="#00ff00"/>
<rect x="1012" y="662" width="3" height="43" fill="#00ff00"/>
<rect x="1020" y="662" width="3" height="41" fill="#00ff00"/>
<rect x="1028" y="662" width="3" height="38" fill="#00ff00"/>
<rect x="1036" y="662" width="3" height="40" fill="#00ff00"/>
<rect x="1044" y="662" width="3" height="42" fill="#00ff00"/>
<rect x="1052" y="662" width="3" height="46" fill="#00ff00"/>
<rect x="1060" y="662" width="3" height="52" fill="#00ff00"/>
<rect x="1068" y="662" width="3" height="57" fill="#00ff00"/>
<rect x="1076" y="662" width="3" height="65" fill="#00ff00"/>
<rect x="1084" y="662" width="3" height="67" fill="#00ff00"/>
<rect x="1092" y="662" width="3" height="71" fill="#00ff00"/>
<rect x="1100" y="662" width="3" height="74" fill="#00ff00"/>
<rect x="1108" y="662" width="3" height="66" fill="#00ff00"/>
<rect x="1116" y="662" width="3" height="60" fill="#00ff00"/>
<rect x="1124" y="662" width="3" height="56" fill="#00ff00"/>
<rect x="1132" y="662" width="3" height="44" fill="#00ff00"/>
<rect x="1140" y="662" width="3" height="33" fill="#00ff00"/>
<rect x="1148" y="662" width="3" height="23" fill="#00ff00"/>
<rect x="1156" y="662" width="3" height="11" fill="#00ff00"/>
<rect x="1164" y="662" width="3" height="4" fill="#00ff00"/>
<rect x="1172" y="662" width="3" height="2" fill="#00ff00"/>
<rect x="1180" y="662" width="3" height="2" fill="#00ff00"/>
<rect x="1188" y="661" width="3" height="2" fill="#00ff00"/>
<rect x="1196" y="659" width="3" height="4" fill="#00ff00"/>
<rect x="1204" y="650" width="3" height="13" fill="#00ff00"/>
<rect x="1212" y="639" width="3" height="24" fill="#00ff00"/>
<rect x="1220" y="629" width="3" height="34" fill="#00ff00"/>
<rect x="1228" y="621" width="3" height="42" fill="#00ff00"/>
<rect x="1236" y="617" width="3" height="46" fill="#00ff00"/>
<rect x="1244" y="611" width="3" height="52" fill="#00ff00"/>
<rect x="1252" y="610" width="3" height="53" fill="#00ff00"/>
<rect x="1260" y="609" width="3" height="54" fill="#00ff00"/>
<rect x="1268" y="611" width="3" height="52" fill="#00ff00"/>
<rect x="1276" y="613" width="3" height="50" fill="#00ff00"/>
<rect x="1284" y="616" width="3" height="47" fill="#00ff00"/>
<rect x="1292" y="619" width="3" height="44" fill="#00ff00"/>
</g>
<polyline points="5.5,690.3 13.5,692.7 21.5,694.3 29.5,694.7 37.5,695.2 45.5,694.3 53.5,693.2 61.5,691.0 69.5,688.7 77.5,685.5 85.5,682.2 93.5,679.3 101.5,676.8 109.5,674.6 117.5,672.4 125.5,669.9 133.5,667.3 141.5,664.8 149.5,662.1 157.5,659.2 165.5,655.8 173.5,652.1 181.5,649.8 189.5,648.1 197.5,646.8 205.5,646.6 213.5,647.2 221.5,648.3 229.5,650.7 237.5,654.2 245.5,658.2 253.5,662.3 261.5,667.1 269.5,672.9 277.5,678.9 285.5,684.9 293.5,689.8 301.5,695.8 309.5,700.2 317.5,703.9 325.5,706.7 333.5,708.8 341.5,710.5 349.5,711.6 357.5,712.4 365.5,712.4 373.5,712.6 381.5,713.5 389.5,714.4 397.5,715.0 405.5,715.8 413.5,716.8 421.5,717.4 429.5,717.7 437.5,717.6 445.5,716.8 453.5,715.6 461.5,714.2 469.5,712.8 477.5,711.4 485.5,708.7 493.5,705.9 501.5,703.3 509.5,701.3 517.5,699.6 525.5,698.0 533.5,696.2 541.5,694.4 549.5,692.8 557.5,691.8 565.5,691.4 573.5,690.8 581.5,690.6 589.5,690.8 597.5,691.6 605.5,692.6 613.5,694.2 621.5,696.5 629.5,699.1 637.5,702.1 645.5,705.2 653.5,708.1 661.5,711.4 669.5,714.4 677.5,716.5 685.5,717.3 693.5,716.9 701.5,715.5 709.5,713.6 717.5,711.1 725.5,707.9 733.5,702.7 741.5,695.7 749.5,689.2 757.5,683.2 765.5,677.4 773.5,671.9 781.5,666.6 789.5,661.7 797.5,657.1 805.5,654.1 813.5,651.9 821.5,650.4 829.5,649.6 837.5,649.6 845.5,650.4 853.5,652.2 861.5,654.9 869.5,658.1 877.5,661.9 885.5,665.7 893.5,669.5 901.5,673.5 909.5,676.5 917.5,679.5 925.5,683.1 933.5,686.5 941.5,691.3 949.5,695.8 957.5,700.0 965.5,704.3 973.5,708.8 981.5,711.6 989.5,713.3 997.5,714.3 1005.5,714.2 1013.5,713.2 1021.5,711.5 1029.5,709.6 1037.5,707.6 1045.5,705.9 1053.5,705.0 1061.5,705.7 1069.5,706.8 1077.5,709.2 1085.5,711.8 1093.5,715.2 1101.5,718.8 1109.5,721.6 1117.5,723.4 1125.5,724.5 1133.5,724.1 1141.5,721.6 1149.5,717.1 1157.5,711.1 1165.5,703.6 1173.5,695.6 1181.5,687.8 1189.5,680.6 1197.5,674.4 1205.5,668.4 1213.5,662.2 1221.5,656.3 1229.5,650.4 1237.5,645.3 1245.5,639.3 1253.5,633.4 1261.5,627.6 1269.5,622.4 1277.5,618.5 1285.5,615.9 1293.5,614.5" fill="none" stroke="#ff0000" stroke-width="3.2" stroke-linejoin="round" stroke-linecap="butt"/>
<line x1="1296.5" y1="395" x2="1356.9" y2="267.5" stroke="#ff0000" stroke-width="6.2" stroke-linecap="round"/>
<polygon points="1371.9,235.7 1345.9,262.3 1367.7,272.6" fill="#ff0000"/>
<g shape-rendering="crispEdges">
<rect x="4" y="4" width="1629" height="1" fill="#000"/>
<rect x="4" y="599" width="1629" height="1" fill="#000"/>
<rect x="4" y="601" width="1629" height="1" fill="#000"/>
<rect x="4" y="742" width="1629" height="1" fill="#000"/>
<rect x="4" y="4" width="1" height="596" fill="#000"/>
<rect x="4" y="601" width="1" height="142" fill="#000"/>
<rect x="1632" y="4" width="1" height="596" fill="#000"/>
<rect x="1632" y="601" width="1" height="142" fill="#000"/>
<rect x="1633" y="35" width="2" height="1" fill="#000"/>
<rect x="1633" y="68" width="2" height="1" fill="#000"/>
<rect x="1633" y="101" width="2" height="1" fill="#000"/>
<rect x="1633" y="134" width="2" height="1" fill="#000"/>
<rect x="1633" y="167" width="2" height="1" fill="#000"/>
<rect x="1633" y="200" width="2" height="1" fill="#000"/>
<rect x="1633" y="233" width="2" height="1" fill="#000"/>
<rect x="1633" y="266" width="2" height="1" fill="#000"/>
<rect x="1633" y="299" width="2" height="1" fill="#000"/>
<rect x="1633" y="332" width="2" height="1" fill="#000"/>
<rect x="1633" y="365" width="2" height="1" fill="#000"/>
<rect x="1633" y="431" width="2" height="1" fill="#000"/>
<rect x="1633" y="464" width="2" height="1" fill="#000"/>
<rect x="1633" y="497" width="2" height="1" fill="#000"/>
<rect x="1633" y="530" width="2" height="1" fill="#000"/>
<rect x="1633" y="563" width="2" height="1" fill="#000"/>
<rect x="1633" y="596" width="2" height="1" fill="#000"/>
<rect x="1633" y="602" width="2" height="1" fill="#000"/>
<rect x="1633" y="662" width="2" height="1" fill="#000"/>
<rect x="1633" y="741" width="1" height="1" fill="#000"/>
<rect x="5" y="743" width="1" height="3" fill="#000"/>
<rect x="69" y="743" width="1" height="3" fill="#000"/>
<rect x="133" y="743" width="1" height="3" fill="#000"/>
<rect x="197" y="743" width="1" height="3" fill="#000"/>
<rect x="261" y="743" width="1" height="3" fill="#000"/>
<rect x="325" y="743" width="1" height="3" fill="#000"/>
<rect x="389" y="743" width="1" height="3" fill="#000"/>
<rect x="453" y="743" width="1" height="3" fill="#000"/>
<rect x="517" y="743" width="1" height="3" fill="#000"/>
<rect x="581" y="743" width="1" height="3" fill="#000"/>
<rect x="645" y="743" width="1" height="3" fill="#000"/>
<rect x="709" y="743" width="1" height="3" fill="#000"/>
<rect x="773" y="743" width="1" height="3" fill="#000"/>
<rect x="837" y="743" width="1" height="3" fill="#000"/>
<rect x="901" y="743" width="1" height="3" fill="#000"/>
<rect x="965" y="743" width="1" height="3" fill="#000"/>
<rect x="1029" y="743" width="1" height="3" fill="#000"/>
<rect x="1093" y="743" width="1" height="3" fill="#000"/>
<rect x="1157" y="743" width="1" height="3" fill="#000"/>
<rect x="1221" y="743" width="1" height="3" fill="#000"/>
<rect x="1285" y="743" width="1" height="3" fill="#000"/>
<rect x="1634" y="353" width="36" height="11" fill="#000"/>
<rect x="1634" y="391" width="36" height="11" fill="#000"/>
<path d="M8 11h7v1h-7zM9 12h5v1h-5zM10 13h3v1h-3zM11 14h1v1h-1z" fill="#000"/>
</g>
<text x="20.7" y="16" textLength="64" lengthAdjust="spacingAndGlyphs">CHINA300-,H1</text>
<text x="91" y="16" textLength="27.6" lengthAdjust="spacingAndGlyphs">3738.1</text>
<text x="122" y="16" textLength="27.6" lengthAdjust="spacingAndGlyphs">3760.4</text>
<text x="153" y="16" textLength="27.6" lengthAdjust="spacingAndGlyphs">3733.2</text>
<text x="184" y="16" textLength="27.6" lengthAdjust="spacingAndGlyphs">3755.6</text>
<text x="9.4" y="614" textLength="28.3" lengthAdjust="spacingAndGlyphs">MACD</text>
<text x="38.2" y="614" textLength="36.5" lengthAdjust="spacingAndGlyphs">(12,26,9)</text>
<text x="78.3" y="614" textLength="22.5" lengthAdjust="spacingAndGlyphs">31.99</text>
<text x="104.8" y="614" textLength="22.5" lengthAdjust="spacingAndGlyphs">35.50</text>
<clipPath id="ax"><rect x="1633" y="0" width="31" height="765"/></clipPath><g clip-path="url(#ax)">
<text x="1638" y="39" textLength="27.6" lengthAdjust="spacingAndGlyphs">4132.0</text>
<text x="1638" y="72" textLength="27.6" lengthAdjust="spacingAndGlyphs">4093.0</text>
<text x="1638" y="105" textLength="27.6" lengthAdjust="spacingAndGlyphs">4055.0</text>
<text x="1638" y="138" textLength="27.6" lengthAdjust="spacingAndGlyphs">4016.0</text>
<text x="1638" y="171" textLength="27.6" lengthAdjust="spacingAndGlyphs">3978.0</text>
<text x="1638" y="204" textLength="27.6" lengthAdjust="spacingAndGlyphs">3939.0</text>
<text x="1638" y="237" textLength="27.6" lengthAdjust="spacingAndGlyphs">3901.0</text>
<text x="1638" y="270" textLength="27.6" lengthAdjust="spacingAndGlyphs">3862.0</text>
<text x="1638" y="303" textLength="27.6" lengthAdjust="spacingAndGlyphs">3824.0</text>
<text x="1638" y="336" textLength="27.6" lengthAdjust="spacingAndGlyphs">3785.0</text>
<text x="1638" y="369" textLength="27.6" lengthAdjust="spacingAndGlyphs">3747.0</text>
<text x="1638" y="435" textLength="27.6" lengthAdjust="spacingAndGlyphs">3670.0</text>
<text x="1638" y="468" textLength="27.6" lengthAdjust="spacingAndGlyphs">3632.0</text>
<text x="1638" y="501" textLength="27.6" lengthAdjust="spacingAndGlyphs">3593.0</text>
<text x="1638" y="534" textLength="27.6" lengthAdjust="spacingAndGlyphs">3555.0</text>
<text x="1638" y="567" textLength="27.6" lengthAdjust="spacingAndGlyphs">3516.0</text>
<text x="1638" y="600" textLength="27.6" lengthAdjust="spacingAndGlyphs">3478.0</text>
<text x="1638" y="362" textLength="27.6" lengthAdjust="spacingAndGlyphs" class="w">3755.6</text>
<text x="1638" y="400" textLength="27.6" lengthAdjust="spacingAndGlyphs" class="w">3710.0</text>
<text x="1636.3" y="612.3" textLength="22.5" lengthAdjust="spacingAndGlyphs">44.43</text>
<text x="1636.3" y="665.8" textLength="17.5" lengthAdjust="spacingAndGlyphs">0.00</text>
<text x="1636.3" y="739" textLength="25.5" lengthAdjust="spacingAndGlyphs">-58.95</text>
</g>
<text x="4.0" y="754.7" textLength="46.6" lengthAdjust="spacingAndGlyphs">5 Sep 2022</text>
<text x="68.0" y="754.7" textLength="49.8" lengthAdjust="spacingAndGlyphs">7 Sep 05:00</text>
<text x="132.0" y="754.7" textLength="49.8" lengthAdjust="spacingAndGlyphs">9 Sep 05:00</text>
<text x="196.0" y="754.7" textLength="54.4" lengthAdjust="spacingAndGlyphs">14 Sep 05:00</text>
<text x="260.0" y="754.7" textLength="54.4" lengthAdjust="spacingAndGlyphs">16 Sep 05:00</text>
<text x="324.0" y="754.7" textLength="54.4" lengthAdjust="spacingAndGlyphs">20 Sep 05:00</text>
<text x="388.0" y="754.7" textLength="54.4" lengthAdjust="spacingAndGlyphs">22 Sep 05:00</text>
<text x="452.0" y="754.7" textLength="54.4" lengthAdjust="spacingAndGlyphs">26 Sep 05:00</text>
<text x="516.0" y="754.7" textLength="54.4" lengthAdjust="spacingAndGlyphs">28 Sep 05:00</text>
<text x="580.0" y="754.7" textLength="54.4" lengthAdjust="spacingAndGlyphs">30 Sep 05:00</text>
<text x="644.0" y="754.7" textLength="53.6" lengthAdjust="spacingAndGlyphs">11 Oct 05:00</text>
<text x="708.0" y="754.7" textLength="53.6" lengthAdjust="spacingAndGlyphs">13 Oct 05:00</text>
<text x="772.0" y="754.7" textLength="53.6" lengthAdjust="spacingAndGlyphs">17 Oct 05:00</text>
<text x="836.0" y="754.7" textLength="53.6" lengthAdjust="spacingAndGlyphs">19 Oct 05:00</text>
<text x="900.0" y="754.7" textLength="53.6" lengthAdjust="spacingAndGlyphs">21 Oct 05:00</text>
<text x="964.0" y="754.7" textLength="53.6" lengthAdjust="spacingAndGlyphs">25 Oct 05:00</text>
<text x="1028.0" y="754.7" textLength="53.6" lengthAdjust="spacingAndGlyphs">27 Oct 05:00</text>
<text x="1092.0" y="754.7" textLength="53.6" lengthAdjust="spacingAndGlyphs">31 Oct 05:00</text>
<text x="1156.0" y="754.7" textLength="51.8" lengthAdjust="spacingAndGlyphs">2 Nov 05:00</text>
<text x="1220.0" y="754.7" textLength="51.8" lengthAdjust="spacingAndGlyphs">4 Nov 05:00</text>
<text x="1284.0" y="754.7" textLength="51.8" lengthAdjust="spacingAndGlyphs">8 Nov 05:00</text>
<g shape-rendering="crispEdges"><rect x="1664" y="0" width="1" height="765" fill="#404048"/><rect x="1665" y="0" width="2" height="765" fill="#ffe838"/></g>
</svg></body></html>
